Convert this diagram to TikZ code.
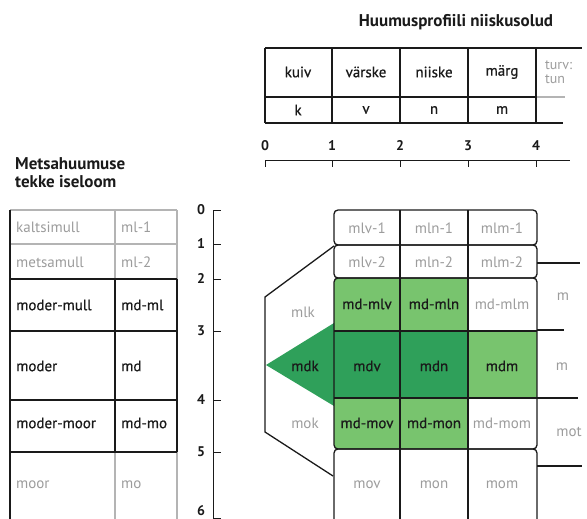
\documentclass[tikz,border=0pt]{standalone}
\usepackage{fontspec}
\setmainfont{PT Sans}
\newfontfamily\heavyish{PT Sans}[FakeBold=0.7]
\definecolor{ink}{HTML}{1A1A1A}
\definecolor{faint}{HTML}{9C9C9C}
\definecolor{rulegray}{HTML}{B4B4B4}
\definecolor{greenD}{HTML}{2FA05A}
\definecolor{greenM}{HTML}{78C46E}
\begin{document}
\begin{tikzpicture}[x=1pt,y=-1pt,
  txt/.style={font=\heavyish\fontsize{15}{17}\selectfont, text=ink, inner sep=0pt},
  ftxt/.style={font=\fontsize{15}{17}\selectfont, text=faint, inner sep=0pt},
  btxt/.style={font=\fontsize{17}{18}\selectfont\bfseries, text=ink, inner sep=0pt},
  num/.style={font=\fontsize{14}{15}\selectfont\bfseries, text=ink, inner sep=0pt},
  dk/.style={draw=ink, line width=1.3pt},
  lt/.style={draw=rulegray, line width=1.1pt}]
\useasboundingbox (0,0) rectangle (587,519);

% ---------- headings ----------
\node[btxt] (title) at (456,22) {Huumusprofiili niiskusolud};
\node[btxt, anchor=north west, align=left] (ltitle) at (15,157) {Metsahuumuse\\tekke iseloom};

% ---------- moisture table ----------
\draw[dk] (265,48) -- (582,48);
\draw[dk] (265,48) -- (265,123);
\foreach \x in {332,400,468,536} \draw[dk] (\x,48) -- (\x,123);
\draw[dk, line width=1.9pt] (265,97) -- (537,97);
\draw[lt] (537,97) -- (565,97);
\draw[dk] (265,123) -- (563,123);

\node[txt] (kuiv)   at (298,72) {kuiv};
\node[txt] (varske) at (366,72) {värske};
\node[txt] (niiske) at (434,72) {niiske};
\node[txt] (marg)   at (502,72) {märg};
\node[ftxt, font=\fontsize{14}{14}\selectfont, anchor=west, align=left] (turv) at (545,72) {turv:\\tun};
\node[txt] (ck) at (298,110) {k};
\node[txt] (cv) at (366,110) {v};
\node[txt] (cn) at (434,110) {n};
\node[txt] (cm) at (502,110) {m};

% ---------- horizontal scale ----------
\draw[dk, line width=1pt] (265,160) -- (570,160);
\foreach \x/\n in {265/0,332/1,400/2,468/3,536/4} {
  \draw[dk, line width=1pt] (\x,160) -- (\x,167);
  \node[num] (h\n) at (\x,146) {\n};
}

% ---------- vertical scale ----------
\draw[dk, line width=1pt] (213,210) -- (213,525);
\foreach \y/\n in {210/0,244/1,279/2,331/3,400/4,452/5} {
  \draw[dk, line width=1pt] (213,\y) -- (221,\y);
  \node[num] (v\n) at (201,\y) {\n};
}
\draw[dk, line width=1pt] (213,518) -- (221,518);
\node[num] (v6) at (201,511) {6};

% ---------- humus type table ----------
\draw[lt] (10,210) -- (177,210);
\draw[lt] (10,244) -- (177,244);
\draw[lt] (115,210) -- (115,279);
\draw[lt] (177,210) -- (177,279);
\draw[lt] (115,452) -- (115,525);
\draw[lt] (177,452) -- (177,525);
\draw[dk] (10,279) -- (177,279);
\draw[dk] (10,331) -- (177,331);
\draw[dk] (10,400) -- (177,400);
\draw[dk] (10,452) -- (177,452);
\draw[dk] (115,279) -- (115,452);
\draw[dk] (177,279) -- (177,452);
\draw[dk] (10,210) -- (10,525);

\node[ftxt, anchor=west] (kaltsimull) at (16,227) {kaltsimull};
\node[ftxt, anchor=west] (ml1)        at (121,227) {ml-1};
\node[ftxt, anchor=west] (metsamull)  at (16,262) {metsamull};
\node[ftxt, anchor=west] (ml2)        at (121,262) {ml-2};
\node[txt, anchor=west]  (modermull)  at (16,305) {moder-mull};
\node[txt, anchor=west]  (mdml)       at (121,305) {md-ml};
\node[txt, anchor=west]  (moder)      at (16,366) {moder};
\node[txt, anchor=west]  (md)         at (121,366) {md};
\node[txt, anchor=west]  (modermoor)  at (16,423) {moder-moor};
\node[txt, anchor=west]  (mdmo)       at (121,423) {md-mo};
\node[ftxt, anchor=west] (moor)       at (16,485) {moor};
\node[ftxt, anchor=west] (mo)         at (121,485) {mo};

% ---------- classification grid ----------
\begin{scope}
  \clip[rounded corners=4pt] (334,278) rectangle (537,449);
  \fill[greenM] (334,278) rectangle (468,331);
  \fill[greenD] (334,331) rectangle (468,398);
  \fill[greenM] (468,331) rectangle (537,398);
  \fill[greenM] (334,398) rectangle (468,449);
\end{scope}
\fill[greenD] (334,323) -- (266,365) -- (334,406) -- cycle;

\draw[dk] (334,246) -- (265,297) -- (265,432) -- (333,476);

\draw[dk, rounded corners=4pt] (334,210) rectangle (537,245);
\draw[dk, rounded corners=4pt] (334,245) rectangle (537,278);
\draw[dk, rounded corners=4pt] (334,278) rectangle (537,449);
\draw[dk, rounded corners=4pt] (334,449) rectangle (537,530);
\draw[dk] (334,331) -- (537,331);
\draw[dk] (334,398) -- (537,398);
\draw[dk] (400,210) -- (400,525);
\draw[dk] (468,210) -- (468,525);

% peat column separators
\draw[dk] (537,263) -- (580,263);
\draw[dk] (537,330) -- (564,330);
\draw[dk] (537,398) -- (578,398);
\draw[dk] (537,466) -- (582,466);

\node[ftxt] (mlv1) at (367,228) {mlv-1};
\node[ftxt] (mln1) at (434,228) {mln-1};
\node[ftxt] (mlm1) at (502,228) {mlm-1};
\node[ftxt] (mlv2) at (367,262) {mlv-2};
\node[ftxt] (mln2) at (434,262) {mln-2};
\node[ftxt] (mlm2) at (502,262) {mlm-2};
\node[txt]  (mdmlv) at (367,304) {md-mlv};
\node[txt]  (mdmln) at (434,304) {md-mln};
\node[ftxt] (mdmlm) at (502,304) {md-mlm};
\node[txt]  (mdv) at (367,366) {mdv};
\node[txt]  (mdn) at (434,366) {mdn};
\node[txt]  (mdm) at (502,366) {mdm};
\node[txt]  (mdmov) at (367,423) {md-mov};
\node[txt]  (mdmon) at (434,423) {md-mon};
\node[ftxt] (mdmom) at (502,423) {md-mom};
\node[ftxt] (mov) at (367,485) {mov};
\node[ftxt] (mon) at (434,485) {mon};
\node[ftxt] (mom) at (502,485) {mom};

\node[ftxt] (mlk) at (303,312) {mlk};
\node[txt]  (mdk) at (305,366) {mdk};
\node[ftxt] (mok) at (305,423) {mok};

\node[ftxt] (rm1) at (563,297) {m};
\node[ftxt] (rm2) at (562,367) {m};
\node[ftxt] (rmot) at (569,432) {mot};
\end{tikzpicture}
\end{document}
